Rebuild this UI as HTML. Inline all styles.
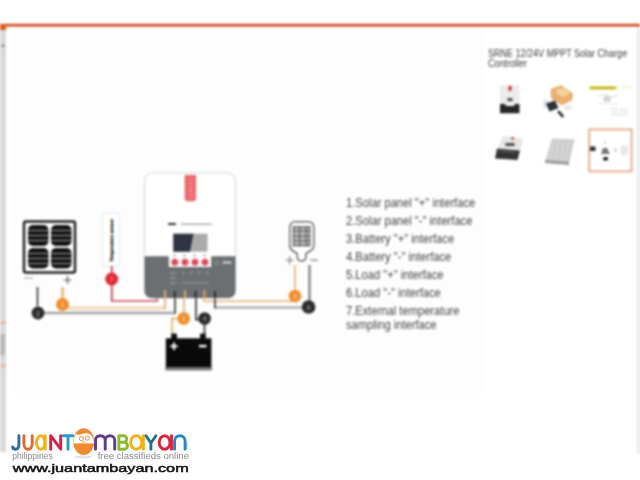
<!DOCTYPE html>
<html><head><meta charset="utf-8">
<style>
html,body{margin:0;padding:0;width:640px;height:480px;overflow:hidden;background:#fff;}
body{position:relative;font-family:"Liberation Sans",sans-serif;}
#wrap{position:absolute;left:0;top:0;width:640px;height:480px;filter:blur(1px);}
.abs{position:absolute;}
.list{position:absolute;left:346px;top:193.7px;font-size:12px;color:#444;line-height:18.08px;white-space:nowrap;transform:scaleX(0.93);transform-origin:0 0;}
.title{position:absolute;left:488px;top:48.6px;font-size:10.2px;color:#3a3a3a;line-height:10px;white-space:nowrap;transform:scaleX(0.885);transform-origin:0 0;}
</style></head><body><div id="wrap">
<svg class="abs" style="left:0;top:0" width="640" height="480" viewBox="0 0 640 480">
  <!-- faint panel background -->
  <rect x="12.5" y="27" width="470" height="367" fill="#fdfdfd"/>
  <!-- top orange line -->
  <rect x="0" y="23.8" width="640" height="2.8" fill="#cf5228"/>
  <!-- left strip -->
  <rect x="0" y="24" width="6" height="6" fill="#e25a20"/>
  <rect x="0" y="30" width="6" height="422" fill="#d9d9d9"/>
  <path d="M0 45.8L4.5 44V47.6Z" fill="#909090"/>
  <rect x="0" y="322" width="6" height="1.5" fill="#f0a080"/>
  <rect x="0" y="365" width="6" height="1.5" fill="#f0a080"/>
  <rect x="0" y="334" width="5" height="21" fill="#b8b8b8"/>
  <!-- right strip -->
  <defs><linearGradient id="rg" x1="0" x2="1" y1="0" y2="0"><stop offset="0" stop-color="#fff"/><stop offset="0.5" stop-color="#eeeeee"/><stop offset="1" stop-color="#e4e4e4"/></linearGradient></defs>
  <rect x="635.5" y="27" width="4.5" height="427" fill="url(#rg)"/>

  <!-- ===== solar panel ===== -->
  <rect x="24" y="221.5" width="51" height="51" rx="2" fill="#fff" stroke="#222" stroke-width="2.5"/>
  <g fill="#151515">
    <rect x="28" y="225" width="20.5" height="21" rx="5"/>
    <rect x="51" y="225" width="20.5" height="21" rx="5"/>
    <rect x="28" y="248" width="20.5" height="20.5" rx="5"/>
    <rect x="51" y="248" width="20.5" height="20.5" rx="5"/>
  </g>
  <g stroke="#aaa" stroke-width="0.9"><line x1="28" y1="230.5" x2="48.5" y2="230.5"/><line x1="28" y1="235.5" x2="48.5" y2="235.5"/><line x1="28" y1="240.5" x2="48.5" y2="240.5"/><line x1="28" y1="253.5" x2="48.5" y2="253.5"/><line x1="28" y1="258.5" x2="48.5" y2="258.5"/><line x1="28" y1="263.5" x2="48.5" y2="263.5"/><line x1="51" y1="230.5" x2="71.5" y2="230.5"/><line x1="51" y1="235.5" x2="71.5" y2="235.5"/><line x1="51" y1="240.5" x2="71.5" y2="240.5"/><line x1="51" y1="253.5" x2="71.5" y2="253.5"/><line x1="51" y1="258.5" x2="71.5" y2="258.5"/><line x1="51" y1="263.5" x2="71.5" y2="263.5"/></g>
  <line x1="24" y1="278" x2="33" y2="278" stroke="#bbb" stroke-width="1.5"/>
  <path d="M63.5 280H71.5M67.5 276V284" stroke="#555" stroke-width="1.2"/>

  <!-- ===== temperature sensor ===== -->
  <rect x="102.5" y="213" width="17" height="53" fill="#fff" stroke="#d4d4d4" stroke-width="1" stroke-dasharray="2 1.5"/>
  <text x="112.6" y="261.5" font-family="Liberation Sans" font-size="3.8" font-weight="bold" fill="#333" stroke="#333" stroke-width="0.35" textLength="42.5" lengthAdjust="spacingAndGlyphs" transform="rotate(-90 112.6 261.5)">Temperature sensor</text>
  <line x1="111.7" y1="266" x2="111.7" y2="301" stroke="#b03040" stroke-width="1.5"/>

  <!-- ===== wires ===== -->
  <!-- red wire 7 -->
  <path d="M111.7 266V301H157V295" fill="none" stroke="#c84a58" stroke-width="1.6"/>
  <!-- orange wire 1 solar+ -->
  <path d="M62.5 287V308.3H165" fill="none" stroke="#f0dcc0" stroke-width="3.6"/>
  <path d="M165 309V290" fill="none" stroke="#e8c090" stroke-width="2.4"/>
  <line x1="62.5" y1="287" x2="62.5" y2="300" stroke="#e8b880" stroke-width="2"/>
  <!-- gray wire 2 solar- -->
  <path d="M38 313H175" fill="none" stroke="#a2a6aa" stroke-width="2.5"/>
  <line x1="175" y1="314" x2="175" y2="290" stroke="#5a5a5a" stroke-width="2"/>
  <line x1="37.5" y1="287" x2="37.5" y2="306" stroke="#333" stroke-width="1.6"/>
  <!-- battery wires -->
  <path d="M184 290V318.5H172V336" fill="none" stroke="#e8b880" stroke-width="2"/>
  <path d="M196 290V319.5H204.5V336" fill="none" stroke="#444" stroke-width="1.8"/>
  <!-- load wires -->
  <path d="M204 290V301.3H295V265" fill="none" stroke="#e8b070" stroke-width="1.6"/>
  <path d="M215 307.5H309.5V265" fill="none" stroke="#aeb0b2" stroke-width="2.4"/>
  <line x1="215" y1="308.5" x2="215" y2="290" stroke="#5a5a5a" stroke-width="2"/>
  <line x1="309.5" y1="265" x2="309.5" y2="300" stroke="#8a8a8a" stroke-width="2"/>

  <!-- ===== controller ===== -->
  <rect x="144.5" y="173" width="91" height="125" rx="8" fill="#fff" stroke="#d8d8d8" stroke-width="1.2"/>
  <path d="M144.5 256.2H168.8V267H211.2V256.2H235.5V291A7 7 0 0 1 228.5 298H151.5A7 7 0 0 1 144.5 291Z" fill="#6b6f72"/>
  <path d="M184.6 175H196.1V198.3A3 3 0 0 1 193.1 201.3H187.6A3 3 0 0 1 184.6 198.3Z" fill="#ec6a70"/>
  <g fill="#f4a4a8"><rect x="189.5" y="179" width="3" height="1"/><rect x="189.5" y="183" width="3.5" height="1"/><rect x="189.5" y="187" width="3" height="1"/><rect x="189" y="190" width="4" height="1"/><rect x="189.5" y="193.5" width="3" height="1"/><rect x="189.5" y="197" width="3" height="1"/></g>
  <rect x="168" y="223" width="8" height="2" fill="#333"/>
  <rect x="181" y="223.5" width="31" height="1.5" fill="#aaa"/>
  <rect x="173.3" y="233.7" width="34.2" height="18" fill="#aaaaaa"/>
  <path d="M173.3 233.7H193.5L190 251.7H173.3Z" fill="#2e3440"/>
  <g fill="#dc4656" stroke="#f4d0d4" stroke-width="0.8">
    <circle cx="174.8" cy="262.2" r="3.7"/>
    <circle cx="185" cy="262.2" r="3.7"/>
    <circle cx="195" cy="262.2" r="3.7"/>
    <circle cx="205" cy="262.2" r="3.7"/>
  </g>
  <g fill="#888"><rect x="173" y="255" width="3" height="1"/><rect x="183" y="255" width="3" height="1"/><rect x="193" y="255" width="3" height="1"/><rect x="203" y="255" width="3" height="1"/></g>
  <circle cx="217" cy="262.5" r="1.8" fill="none" stroke="#aaa" stroke-width="0.7"/>
  <rect x="222.5" y="261.3" width="8.8" height="2.4" fill="#c8cacc"/>
  <g fill="#8a8e90">
    <rect x="170" y="272" width="6" height="2"/><rect x="182" y="272" width="3" height="2"/><rect x="190" y="272" width="3" height="2"/><rect x="198" y="272" width="3" height="2"/><rect x="206" y="272" width="3" height="2"/>
    <rect x="170" y="277" width="6" height="2"/><rect x="170" y="282" width="6" height="2"/><rect x="182" y="282" width="27" height="1.5"/>
  </g>
  <!-- terminal stubs inside controller -->
  <g stroke-width="2" fill="none">
    <line x1="165" y1="290" x2="165" y2="298" stroke="#d8a868"/>
    <line x1="174.8" y1="291" x2="174.8" y2="298" stroke="#2a2a2a"/>
    <line x1="185" y1="290" x2="185" y2="298" stroke="#d8a868"/>
    <line x1="195.6" y1="291" x2="195.6" y2="298" stroke="#2a2a2a"/>
    <line x1="204.4" y1="290" x2="204.4" y2="298" stroke="#d8a868"/>
    <line x1="215" y1="291" x2="215" y2="298" stroke="#2a2a2a"/>
  </g>

  <!-- ===== battery ===== -->
  <rect x="171.2" y="333.5" width="5.8" height="6" rx="1.2" fill="#111"/>
  <rect x="200" y="333.5" width="5.8" height="6" rx="1.2" fill="#111"/>
  <rect x="165.8" y="338.3" width="45.6" height="29" fill="#0a0a0a"/>
  <rect x="165.3" y="367" width="46.6" height="3.4" fill="#707070"/>
  <path d="M170.3 346.2H177.7M174 342.5V349.9" stroke="#fff" stroke-width="2"/>
  <line x1="199" y1="346.1" x2="206.5" y2="346.1" stroke="#fff" stroke-width="2.4"/>

  <!-- ===== load (lamp) ===== -->
  <path d="M295 221.8H308.6A5.2 5.2 0 0 1 313.8 227V246Q313.8 249 310 251L306 253.5V256Q306 261 301.5 261Q297.2 261 297.2 256V253.5L293 251Q289.8 249 289.8 246V227A5.2 5.2 0 0 1 295 221.8Z" fill="#fff" stroke="#6a6a6a" stroke-width="1.5"/>
  <rect x="292.8" y="226" width="17.4" height="20.5" fill="#b8b8b8"/>
  <g stroke="#555" stroke-width="1">
    <line x1="292.6" y1="227" x2="310.4" y2="227"/><line x1="292.6" y1="231" x2="310.4" y2="231"/><line x1="292.6" y1="236.2" x2="310.4" y2="236.2"/><line x1="292.6" y1="240.8" x2="310.4" y2="240.8"/><line x1="292.6" y1="245.4" x2="310.4" y2="245.4"/>
    <line x1="293.4" y1="226" x2="293.4" y2="246.5"/><line x1="299.5" y1="226" x2="299.5" y2="246.5"/><line x1="306.3" y1="226" x2="306.3" y2="246.5"/><line x1="309.8" y1="226" x2="309.8" y2="246.5"/>
  </g>
  <path d="M285.7 260.2H293.7M289.7 256.2V264.2" stroke="#777" stroke-width="1.1"/>
  <line x1="310.4" y1="260.2" x2="317.8" y2="260.2" stroke="#777" stroke-width="1.3"/>

  <!-- ===== numbered circles ===== -->
  <g font-family="Liberation Sans" font-size="7" font-weight="bold" text-anchor="middle">
    <circle cx="62.5" cy="304.5" r="6.5" fill="#f08c2c"/><text x="62.5" y="307" fill="#f8c890">1</text>
    <circle cx="38" cy="313" r="6.5" fill="#2b2b2b"/><text x="38" y="315.5" fill="#888">2</text>
    <circle cx="111.7" cy="279" r="6.5" fill="#e02a34"/><text x="111.7" y="281.5" fill="#f08890">7</text>
    <circle cx="183.7" cy="318.5" r="6.3" fill="#f08c2c"/><text x="183.7" y="321" fill="#f8c890">3</text>
    <circle cx="204.6" cy="318.5" r="6.3" fill="#2b2b2b"/><text x="204.6" y="321" fill="#888">4</text>
    <circle cx="295" cy="296" r="6.3" fill="#f08c2c"/><text x="295" y="298.5" fill="#f8c890">5</text>
    <circle cx="308.6" cy="307" r="6.8" fill="#2b2b2b"/><text x="308.6" y="309.5" fill="#888">6</text>
  </g>

  <!-- ===== thumbnails ===== -->
  <!-- t1 -->
  <rect x="500" y="85" width="19.5" height="20" fill="#ececec"/>
  <rect x="508.3" y="85.5" width="3.4" height="5.5" rx="1.5" fill="#d84040"/>
  <rect x="507.5" y="98" width="5" height="3.2" fill="#555"/>
  <path d="M500 104H505L506 106H514L515 104H519.5V113.3H500Z" fill="#262626"/>
  <!-- t2 -->
  <path d="M550.5 89L561 85L573 93.5L572.5 100L562 105.5L551 98.5Z" fill="#e9b070"/>
  <path d="M556 90L563 87.5L570 93L564 97L557 94Z" fill="#f0d49a"/>
  <path d="M542.5 101L547.5 99L549.5 107.5L544 109Z" fill="#e0e4ec"/>
  <path d="M546 103.5L555 100.5L558.5 108L549.5 111.5Z" fill="#2c3038"/>
  <path d="M558.8 112L562.5 116" stroke="#2a2a2a" stroke-width="2.6" stroke-linecap="round"/>
  <path d="M564 106L571 104.5L572 109L565 110.5Z" fill="#e8e8e8"/>
  <!-- t3 -->
  <rect x="589" y="86" width="28" height="3.8" rx="1.8" fill="#e6d640"/>
  <rect x="591" y="87.3" width="24" height="1.3" fill="#a89a40"/>
  <rect x="622" y="85.5" width="9" height="3" fill="#f6f6dc"/>
  <path d="M598 96L604 94L612 97L618 95" stroke="#d8d8d8" stroke-width="1" fill="none"/>
  <ellipse cx="607" cy="99" rx="4" ry="3" fill="#d4d4d4"/>
  <rect x="598" y="103" width="20" height="1" fill="#e4e4e4"/>
  <g fill="#e0e0e0"><rect x="611" y="108" width="7" height="1.2"/><rect x="620" y="108" width="8" height="1.2"/><rect x="611" y="111" width="7" height="1.2"/><rect x="620" y="111" width="8" height="1.2"/><rect x="611" y="114" width="17" height="1.2"/></g>
  <!-- t4 -->
  <path d="M503 136L523 138.5L520.5 150L498 148Z" fill="#e6e6e6"/>
  <circle cx="512.5" cy="138.2" r="1.5" fill="#d84848"/>
  <rect x="505.5" y="143" width="9" height="3" fill="#4a5048"/>
  <path d="M497 148.5L520 150.5L517.5 160L495 158.5Z" fill="#333"/>
  <path d="M499 151L516 152.5" stroke="#666" stroke-width="1"/>
  <!-- t5 -->
  <path d="M552 138.5L574.5 139.2L569 164L545 162Z" fill="#cdcdcd"/>
  <g stroke="#e0e0e0" stroke-width="0.8"><line x1="555" y1="139" x2="549" y2="161"/><line x1="560" y1="139" x2="554" y2="162"/><line x1="565" y1="139" x2="559" y2="162"/><line x1="570" y1="139" x2="564" y2="163"/></g>
  <path d="M545 160L569 162L569 165L545 163Z" fill="#9a9a9a"/>
  <!-- t6 -->
  <rect x="589.2" y="129.4" width="42.4" height="42" fill="#fff" stroke="#e8b49a" stroke-width="2.2"/>
  <rect x="590" y="146.5" width="5.5" height="4.5" fill="#333"/>
  <path d="M601 154L603 148H607L610 154Z" fill="#777"/>
  <rect x="603" y="157" width="5.2" height="3.4" rx="1.5" fill="#222"/>
  <circle cx="605" cy="142.7" r="0.8" fill="#e06060"/>
  <rect x="614.5" y="148" width="2" height="4" fill="#ccc"/>
  <rect x="620.4" y="145.4" width="7.6" height="10" fill="#e8e8e8"/>
</svg>

<div class="title">SRNE 12/24V MPPT Solar Charge<br>Controller</div>

<div class="list">
1.Solar panel "+" interface<br>
2.Solar panel "-" interface<br>
3.Battery "+" interface<br>
4.Battery "-" interface<br>
5.Load "+" interface<br>
6.Load "-" interface<br>
7.External temperature<br><span style="position:relative;top:-4.6px">sampling interface</span>
</div>

</div>
<!-- logo -->
<svg class="abs" style="left:0;top:0" width="640" height="480" viewBox="0 0 640 480">
  <g fill="none" stroke-width="2.9" stroke-linecap="round" stroke-linejoin="round">
    <path d="M18.9 435.7V444.5Q18.9 449.2 15.6 449.2Q13.2 449.2 12.6 447" stroke="#2f6c9c"/>
    <path d="M23.9 435.7V443.5A4.15 5.7 0 0 0 32.2 443.5V435.7" stroke="#e8672c"/>
    <ellipse cx="40.7" cy="442.5" rx="4.2" ry="6.7" stroke="#f4b01a"/><path d="M45.2 435.7V449.2" stroke="#f4b01a"/>
    <path d="M50.7 449.2V435.7L60.7 449.2V435.7" stroke="#d6204a"/>
    <path d="M63.2 435.7H72.8M68 435.7V449.2" stroke="#2b9bd3"/>
    <path d="M95.5 449.2V440A4.85 4.3 0 0 1 105.2 440V449.2M105.2 440A4.75 4.3 0 0 1 114.7 440V449.2" stroke="#5f3a8d"/>
    <path d="M118.9 449.2V435.7H123.5A3.2 3.2 0 0 1 123.5 442.2H118.9M118.9 442.2H124A3.5 3.5 0 0 1 124 449.2H118.9" stroke="#8cb836"/>
    <ellipse cx="136.2" cy="442.5" rx="5.6" ry="6.7" stroke="#f4b01a"/><path d="M143.4 435.7V449.2" stroke="#f4b01a"/>
    <path d="M146 435.7L150.9 443L155.9 435.7M150.9 443V449.2" stroke="#20708f"/>
    <ellipse cx="164.6" cy="442.5" rx="5.4" ry="6.7" stroke="#da2440"/><path d="M171.5 435.7V449.2" stroke="#da2440"/>
    <path d="M174.6 449.2V441A5.25 5.3 0 0 1 185.1 441V449.2" stroke="#2088c8"/>
  </g>
  <!-- face -->
  <ellipse cx="83.2" cy="457" rx="9" ry="1.5" fill="#e2e2e2"/>
  <ellipse cx="83.7" cy="441.5" rx="10.5" ry="13.3" fill="#f08a30"/>
  <path d="M73.4 443.5Q73.4 437 76 434Q79 435.5 82 434Q87 432.5 90.5 434.5Q93.8 438 94 443.5Z" fill="#fff"/>
  <circle cx="81.3" cy="438.6" r="2.1" fill="none" stroke="#f08a30" stroke-width="0.9"/>
  <circle cx="87.2" cy="438.1" r="2.1" fill="none" stroke="#f08a30" stroke-width="0.9"/>
  <path d="M82 441.8Q84 442.8 86 441.6" stroke="#f08a30" stroke-width="0.7" fill="none"/>
  <path d="M75 443.6H92.6" stroke="#f8b47a" stroke-width="0.9"/>
  <text x="188.2" y="449.5" font-family="Liberation Sans" font-size="3" fill="#999" transform="rotate(-90 188.2 449.5)">.com</text>
  <g font-family="Liberation Sans" fill="#8a8a8a">
    <text x="12.2" y="459.4" font-size="8.5" textLength="40.6" lengthAdjust="spacingAndGlyphs">philippines</text>
    <text x="97.7" y="458.9" font-size="8.5" textLength="91.3" lengthAdjust="spacingAndGlyphs">free classifieds online</text>
  </g>
  <text x="12.7" y="471.6" font-family="Liberation Sans" font-size="11.8" fill="#111" stroke="#111" stroke-width="0.5" textLength="176" lengthAdjust="spacingAndGlyphs">www.juantambayan.com</text>
</svg>
</body></html>
